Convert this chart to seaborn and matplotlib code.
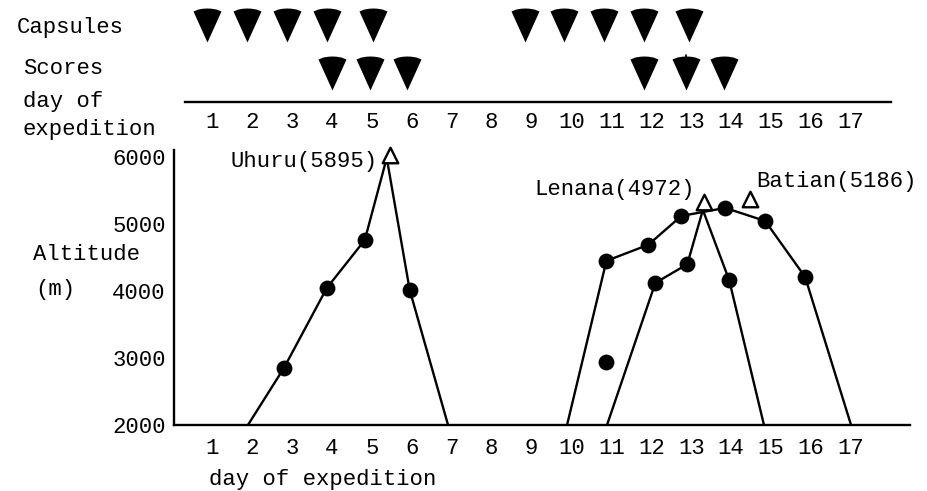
import numpy as np
import pandas as pd
import matplotlib
matplotlib.use('Agg')
import matplotlib.pyplot as plt
from matplotlib.path import Path
import seaborn as sns

days = list(range(1, 18))
alt_ticks = [2000, 3000, 4000, 5000, 6000]

capsule_days = [0.875, 1.875, 2.875, 3.875, 5.025, 8.825, 9.825, 10.825, 11.825, 12.95]
score_days = [4.0, 4.95, 5.875, 11.825, 12.875, 13.825]

trek1_day = [1.9, 2.8, 3.875, 4.825, 5.375, 5.95, 6.91]
trek1_alt = [2000, 2850, 4045, 4760, 5985, 4015, 2000]
trek2_day = [9.89, 10.875, 11.925, 12.75, 13.85, 14.85, 15.85, 17]
trek2_alt = [2000, 4450, 4690, 5120, 5240, 5045, 4210, 2000]
trek3_day = [10.89, 12.1, 12.9, 13.29, 13.95, 14.82]
trek3_alt = [2000, 4120, 4400, 5210, 4160, 2000]

dot_day = [2.8, 3.875, 4.825, 5.95, 10.875, 11.925, 12.75, 13.85, 14.85, 15.85, 12.1, 12.9, 13.95, 10.875]
dot_alt = [2850, 4045, 4760, 4015, 4450, 4690, 5120, 5240, 5045, 4210, 4120, 4400, 4160, 2940]

peak_day = [5.46, 13.32, 14.47]
peak_alt = [6030, 5330, 5373]

W, H = 928, 491
LW = 1.7
FS = 16
sns.set_theme(style='white')
plt.rcParams['font.family'] = ['Liberation Mono', 'DejaVu Sans']

fig = plt.figure(figsize=(W / 100, H / 100), dpi=100)


def px_axes(left, top, right, bottom):
    return fig.add_axes([left / W, 1 - bottom / H, (right - left) / W, (bottom - top) / H])


def day_at(px):
    return 1 + (px - 212) / 39.94


def label(px, py, s):
    fig.text(px / W, 1 - py / H, s, ha='left', va='center', color='black', fontsize=FS)


# wedge marker for the capsule / score rows, top edge is a shallow arc
wedge = Path([(-14, 14), (-9, 16), (-4, 16.8), (0, 17), (4, 16.8), (9, 16), (14, 14), (0, -17), (-14, 14)], closed=True)

# top strip
ax_top = px_axes(185, 0, 891, 102)
ax_top.patch.set_alpha(0)
rows = pd.DataFrame({'day': capsule_days + score_days,
                     'row': [77] * len(capsule_days) + [29] * len(score_days)})
sns.scatterplot(data=rows, x='day', y='row', marker=wedge, s=599, color='black',
                linewidth=0, ax=ax_top, legend=False, clip_on=False)
ax_top.plot([12.88, 12.88], [42, 47], color='black', lw=1.2)
ax_top.set_xlim(day_at(185), day_at(891))
ax_top.set_ylim(0, 102)
ax_top.set_yticks([])
ax_top.set_xticks(days)
ax_top.set_xticklabels(days)
ax_top.tick_params(axis='x', length=0, pad=7, labelsize=FS, colors='black')
ax_top.set_xlabel('')
ax_top.set_ylabel('')
sns.despine(ax=ax_top, left=True)
ax_top.spines['bottom'].set_linewidth(LW)
ax_top.spines['bottom'].set_color('black')

# altitude profile
ax = px_axes(174, 150, 910, 425)
ax.patch.set_alpha(0)
for d, a in [(trek1_day, trek1_alt), (trek2_day, trek2_alt), (trek3_day, trek3_alt)]:
    sns.lineplot(x=d, y=a, sort=False, estimator=None, color='black', lw=LW, ax=ax)
sns.scatterplot(x=dot_day, y=dot_alt, s=130, color='black', linewidth=0, ax=ax, zorder=3)
sns.scatterplot(x=peak_day, y=peak_alt, marker='^', s=125, facecolor='white', edgecolor='black',
                linewidth=LW, ax=ax, zorder=4, clip_on=False)
ax.set_xlim(day_at(174), day_at(910))
ax.set_ylim(2000, 2000 + 275 / 67 * 1000)
ax.set_xticks(days)
ax.set_xticklabels(days)
ax.set_yticks(alt_ticks)
ax.set_yticklabels(alt_ticks)
ax.tick_params(axis='both', length=0, labelsize=FS, colors='black')
ax.tick_params(axis='x', pad=9)
ax.tick_params(axis='y', pad=6)
sns.despine(ax=ax)
for side in ['left', 'bottom']:
    ax.spines[side].set_linewidth(LW)
    ax.spines[side].set_color('black')

label(17, 27, 'Capsules')
label(23, 69, 'Scores')
label(23, 101, 'day of')
label(23, 130, 'expedition')
label(33, 255, 'Altitude')
label(35, 289, '(m)')
label(231, 162, 'Uhuru(5895)')
label(534, 190, 'Lenana(4972)')
label(756, 181, 'Batian(5186)')
label(209, 480, 'day of expedition')

fig.savefig('out.png', dpi=100)
